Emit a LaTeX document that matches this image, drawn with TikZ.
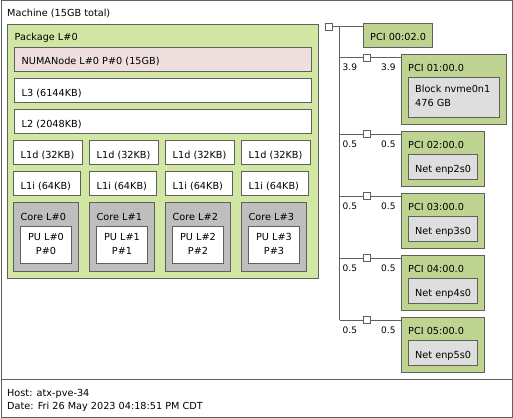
\documentclass[tikz,border=0pt]{standalone}
\usepackage{fontspec}
\setmainfont{DejaVu Sans}
\usetikzlibrary{calc}
\definecolor{pkggreen}{RGB}{210,231,164}
\definecolor{numapink}{RGB}{239,223,222}
\definecolor{coregray}{RGB}{190,190,190}
\definecolor{pcigreen}{RGB}{192,212,146}
\definecolor{osdevgray}{RGB}{222,222,222}
\definecolor{edgegray}{RGB}{95,95,95}
\tikzset{
  box/.style={draw=edgegray, line width=1pt, fill=#1, anchor=north west, inner sep=0pt, outer sep=0pt},
  lbl/.style={anchor=base west, inner sep=0pt, font=\fontsize{9.7}{14}\selectfont},
  twoline/.style={anchor=north, inner sep=0pt, align=center, font=\fontsize{9.7}{14}\selectfont},
  twoleft/.style={anchor=north west, inner sep=0pt, align=left, font=\fontsize{9.7}{14}\selectfont},
  link/.style={draw=edgegray, line width=1pt},
  port/.style={draw=edgegray, line width=1pt, fill=white, minimum size=7pt, inner sep=0pt}
}

\begin{document}
\begin{tikzpicture}[x=1pt,y=-1pt]
  \useasboundingbox (0,0) rectangle (513,417);
  % Machine frame and footer.
  \node[box=white, minimum width=511, minimum height=378] (machine) at (1,1) {};
  \node[lbl] at ($(machine.north west)+(6,16)$) {Machine (15GB total)};
  \node[box=white, minimum width=511, minimum height=38] (footer) at (machine.south west) {};
  \node[twoleft, font=\fontsize{9.7}{13}\selectfont] (hostinfo) at ($(footer.north west)+(6,10)$) {Host: atx-pve-34\\Date: Fri 26 May 2023 04:18:51 PM CDT};

  % Package with memory and shared caches.
  \node[box=pkggreen, minimum width=311, minimum height=254] (package) at (7.5,24.5) {};
  \node[lbl] at ($(package.north west)+(7,16.5)$) {Package L\#0};
  \node[box=numapink, minimum width=297, minimum height=24] (numa) at (14.5,47.5) {};
  \node[lbl] at ($(numa.north west)+(7,17.5)$) {NUMANode L\#0 P\#0 (15GB)};
  \node[box=white, minimum width=297, minimum height=24] (lthree) at (14.5,78.5) {};
  \node[lbl] at ($(lthree.north west)+(7,17.5)$) {L3 (6144KB)};
  \node[box=white, minimum width=297, minimum height=24] (ltwo) at (14.5,109.5) {};
  \node[lbl] at ($(ltwo.north west)+(7,17.5)$) {L2 (2048KB)};

  % Per-core caches, cores and PUs.
  \foreach \i in {0,1,2,3} {
    \node[box=white, minimum width=69, minimum height=24] (loned\i) at (13.5+76*\i,140.5) {};
    \node[lbl] at ($(loned\i.north west)+(7,17.5)$) {L1d (32KB)};
    \node[box=white, minimum width=67, minimum height=24] (lonei\i) at (13.5+76*\i,171.5) {};
    \node[lbl] at ($(lonei\i.north west)+(7,17.5)$) {L1i (64KB)};
    \node[box=coregray, minimum width=65, minimum height=69] (core\i) at (13.5+76*\i,202.5) {};
    \node[lbl] at ($(core\i.north west)+(7,17.5)$) {Core L\#\i};
    \node[box=white, minimum width=51, minimum height=37] (pu\i) at (20.5+76*\i,226.5) {};
    \node[twoline] at ($(pu\i.north)+(0,7)$) {PU L\#\i\\P\#\i};
  }

  % PCI tree.
  \node[port] (hostbridge) at (328.5,27) {};
  \coordinate (trunk) at (339.5,27);
  \node[box=pcigreen, minimum width=69, minimum height=24] (pcizero) at (363,24) {};
  \node[lbl] at ($(pcizero.north west)+(7,17)$) {PCI 00:02.0};
  \draw[link] (hostbridge.east) -- (hostbridge.east -| pcizero.west);

  \node[box=pcigreen, minimum width=105, minimum height=69] (pcione) at (401,55) {};
  \node[lbl] at ($(pcione.north west)+(7,17)$) {PCI 01:00.0};
  \node[box=osdevgray, minimum width=91, minimum height=39] (nvme) at (408,78) {};
  \node[twoleft] at ($(nvme.north west)+(7,7)$) {Block nvme0n1\\476 GB};
  \node[port] (brone) at (367,58) {};

  \foreach \n/\y in {2/131, 3/193, 4/255, 5/317} {
    \node[box=pcigreen, minimum width=83, minimum height=55] (pci\n) at (401,\y) {};
    \node[lbl] at ($(pci\n.north west)+(7,17)$) {PCI 0\n:00.0};
    \node[box=osdevgray, minimum width=69, minimum height=25] (net\n) at (408,\y+23.5) {};
    \node[lbl] at ($(net\n.north west)+(7,17.5)$) {Net enp\n s0};
    \node[port] (br\n) at (367,\y+3) {};
    \draw[link] (trunk |- br\n) -- (br\n.west);
    \draw[link] (br\n.east) -- (br\n.east -| pci\n.west);
    \node[lbl, font=\fontsize{9}{11}\selectfont] at ($(trunk |- br\n)+(3,13)$) {0.5};
    \node[lbl, font=\fontsize{9}{11}\selectfont] at ($(br\n)+(14,13)$) {0.5};
  }
  \draw[link] (trunk |- brone) -- (brone.west);
  \draw[link] (brone.east) -- (brone.east -| pcione.west);
  \node[lbl, font=\fontsize{9}{11}\selectfont] at ($(trunk |- brone)+(3,13)$) {3.9};
  \node[lbl, font=\fontsize{9}{11}\selectfont] at ($(brone)+(14,13)$) {3.9};
  \draw[link] (trunk) -- (trunk |- br5);
\end{tikzpicture}
\end{document}
